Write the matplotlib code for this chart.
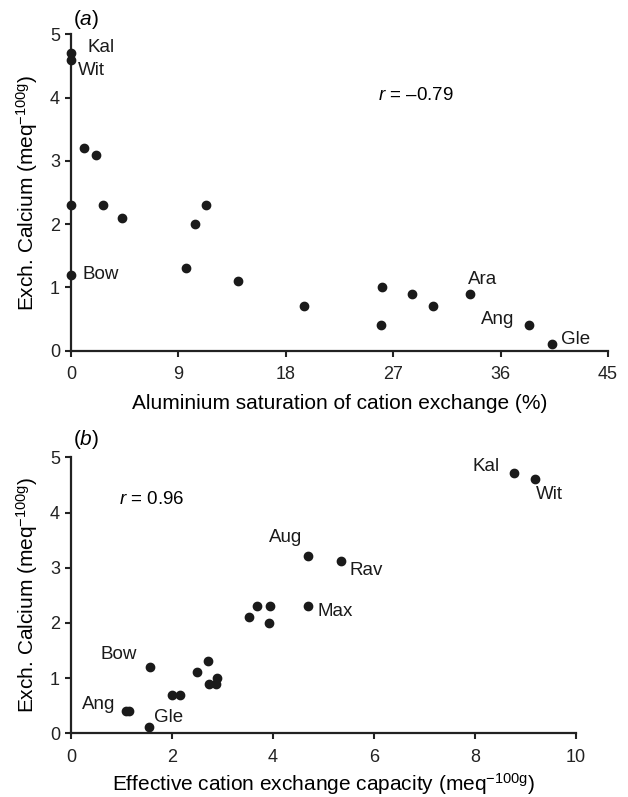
import matplotlib
matplotlib.use("Agg")
import matplotlib.pyplot as plt

plt.rcParams['font.family'] = ['Liberation Sans', 'DejaVu Sans']
plt.rcParams['mathtext.fontset'] = 'custom'
plt.rcParams['mathtext.rm'] = 'Liberation Sans'
plt.rcParams['mathtext.it'] = 'Liberation Sans:italic'

# panel (a): aluminium saturation (%) vs exchangeable calcium
al_sat = [0, 0, 1.1, 2.1, 0, 2.7, 4.3, 0, 9.6, 10.4, 11.3, 14.0, 19.5,
          26.1, 26.0, 28.6, 30.3, 33.4, 38.4, 40.3]
ca_a = [4.7, 4.6, 3.2, 3.1, 2.3, 2.3, 2.1, 1.2, 1.3, 2.0, 2.3, 1.1, 0.7,
        1.0, 0.4, 0.9, 0.7, 0.9, 0.4, 0.1]
names_a = ['Kal', 'Wit', '', '', '', '', '', 'Bow', '', '', '', '', '',
           '', '', '', '', 'Ara', 'Ang', 'Gle']

# panel (b): effective CEC vs exchangeable calcium
ecec = [8.78, 9.18, 4.70, 5.35, 3.68, 3.95, 4.70, 3.52, 3.92, 2.71, 1.56,
        2.49, 2.90, 2.74, 2.87, 1.99, 2.16, 1.08, 1.14, 1.54]
ca_b = [4.72, 4.61, 3.21, 3.12, 2.31, 2.30, 2.30, 2.10, 2.00, 1.31, 1.21,
        1.11, 1.01, 0.90, 0.90, 0.70, 0.70, 0.41, 0.41, 0.11]
names_b = ['Kal', 'Wit', 'Aug', 'Rav', '', '', 'Max', '', '', '', 'Bow',
           '', '', '', '', '', '', '', 'Ang', 'Gle']

# label offsets in pixels (dx, dy, ha)
offs_a = {'Kal': (16, 6, 'left'), 'Wit': (7, -11, 'left'), 'Bow': (11, 0, 'left'),
          'Ara': (-2, 14, 'left'), 'Ang': (-15, 6, 'right'), 'Gle': (9, 5, 'left')}
offs_b = {'Kal': (-15, 6, 'right'), 'Wit': (1, -16, 'left'), 'Aug': (-6, 19, 'right'),
          'Rav': (8, -9, 'left'), 'Max': (9, -5, 'left'), 'Bow': (-13, 12, 'right'),
          'Ang': (-13, 6, 'right'), 'Gle': (5, 10, 'left')}

fig = plt.figure(figsize=(6.28, 7.97), dpi=100)
ax1 = fig.add_axes([0.1131, 0.5600, 0.8551, 0.3970])
ax2 = fig.add_axes([0.1131, 0.0799, 0.8041, 0.3463])


def style(ax):
    for s in ['top', 'right']:
        ax.spines[s].set_visible(False)
    for s in ['left', 'bottom']:
        ax.spines[s].set_linewidth(1.6)
        ax.spines[s].set_color('#222222')
    ax.tick_params(direction='out', length=4.5, width=1.5, labelsize=13,
                   colors='#222222')
    ax.tick_params(axis='x', pad=6.5)
    ax.tick_params(axis='y', pad=3.5)


def draw(ax, x, y, names, offs):
    ax.plot(x, y, 'o', color='#1a1a1a', markersize=6, clip_on=False, zorder=3)
    for xi, yi, n in zip(x, y, names):
        if n:
            dx, dy, ha = offs[n]
            ax.annotate(n, (xi, yi), xytext=(dx, dy), textcoords='offset pixels',
                        ha=ha, va='center', fontsize=13.5, color='#1a1a1a')


style(ax1)
draw(ax1, al_sat, ca_a, names_a, offs_a)
ax1.set_xlim(0, 45)
ax1.set_ylim(0, 5)
ax1.set_xticks([0, 9, 18, 27, 36, 45])
ax1.set_yticks([0, 1, 2, 3, 4, 5])
ax1.set_xlabel('Aluminium saturation of cation exchange (%)', fontsize=15, labelpad=8)
ax1.set_ylabel(r'Exch. Calcium (meq$^{-100\mathrm{g}}$)', fontsize=15, labelpad=7)
ax1.text(25.7, 4.04, r'$r$ = –0.79', fontsize=13.5, va='center', ha='left')
ax1.text(0.003, 1.048, r'($a$)', transform=ax1.transAxes, fontsize=15,
         va='center', ha='left')

style(ax2)
draw(ax2, ecec, ca_b, names_b, offs_b)
ax2.set_xlim(0, 10)
ax2.set_ylim(0, 5)
ax2.set_xticks([0, 2, 4, 6, 8, 10])
ax2.set_yticks([0, 1, 2, 3, 4, 5])
ax2.set_xlabel(r'Effective cation exchange capacity (meq$^{-100\mathrm{g}}$)',
               fontsize=15, labelpad=4)
ax2.set_ylabel(r'Exch. Calcium (meq$^{-100\mathrm{g}}$)', fontsize=15, labelpad=7)
ax2.text(0.95, 4.23, r'$r$ = 0.96', fontsize=13.5, va='center', ha='left')
ax2.text(0.003, 1.063, r'($b$)', transform=ax2.transAxes, fontsize=15,
         va='center', ha='left')

fig.savefig('out.png', dpi=100)
